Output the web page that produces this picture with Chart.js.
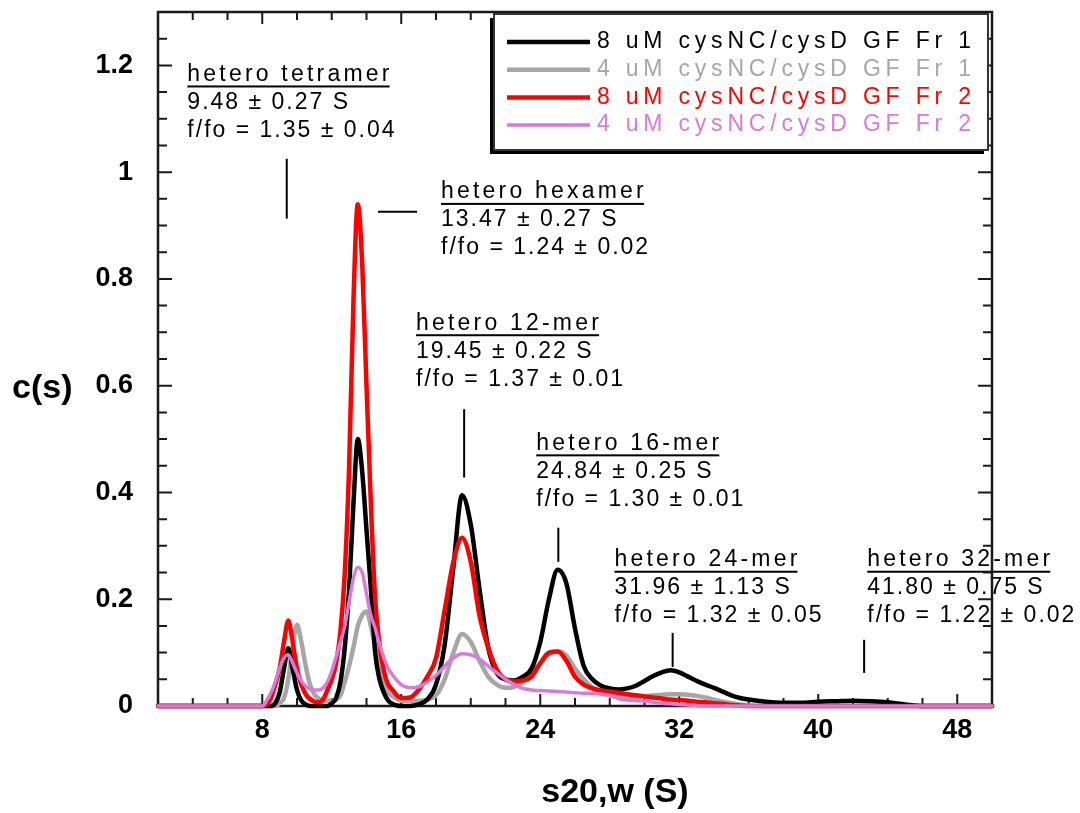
<!DOCTYPE html>
<html>
<head>
<meta charset="utf-8">
<title>c(s) distributions - cysNC/cysD</title>
<script src="https://cdn.jsdelivr.net/npm/chart.js@4.4.1/dist/chart.umd.min.js"></script>
<style>
  html, body { margin: 0; padding: 0; background: #fff; }
</style>
</head>
<body>
<canvas id="cs-chart" width="1080" height="813"></canvas>
<script>
// sedimentation coefficient grid (S)
const sValues = [2, 7.5,
  8, 8.25, 8.5, 8.75, 9, 9.25, 9.5, 9.75, 10, 10.25, 10.5, 10.75, 11, 11.25, 11.5, 11.75,
  12, 12.25, 12.5, 12.75, 13, 13.25, 13.5, 13.75, 14, 14.25, 14.5, 14.75, 15, 15.25, 15.5, 15.75, 16,
  16.5, 17, 17.5, 18, 18.5, 19, 19.5, 20, 20.5, 21, 21.5, 22, 22.5, 23, 23.5, 24, 24.5, 25, 25.5, 26,
  26.5, 27, 27.5, 28, 28.5, 29, 29.5, 30, 30.5, 31, 31.5, 32, 32.5, 33, 33.5, 34, 34.5, 35, 35.5, 36,
  37, 38, 39, 40, 41, 42, 43, 44, 45, 46, 47, 48, 49, 50];

// c(s) for each sample
const fr1High = [0, 0,
  0, 0, 0, 0.005, 0.025, 0.07, 0.108, 0.07, 0.03, 0.01, 0.003, 0, 0, 0, 0, 0,
  0.005, 0.015, 0.045, 0.11, 0.22, 0.38, 0.50, 0.44, 0.33, 0.22, 0.10, 0.05, 0.025, 0.01, 0.004, 0.001, 0,
  0, 0.003, 0.012, 0.04, 0.115, 0.26, 0.395, 0.34, 0.22, 0.11, 0.062, 0.05, 0.048, 0.055, 0.07, 0.12, 0.2, 0.255, 0.23, 0.145,
  0.075, 0.05, 0.038, 0.033, 0.031, 0.033, 0.038, 0.047, 0.056, 0.063, 0.067, 0.063, 0.055, 0.047, 0.04, 0.034, 0.027, 0.02, 0.015, 0.012,
  0.008, 0.006, 0.006, 0.008, 0.009, 0.01, 0.009, 0.007, 0.003, 0, 0, 0, 0, 0];

const fr1Low = [0, 0,
  0, 0, 0, 0, 0.005, 0.015, 0.05, 0.11, 0.152, 0.12, 0.075, 0.04, 0.022, 0.014, 0.011, 0.01,
  0.01, 0.012, 0.02, 0.045, 0.075, 0.11, 0.15, 0.17, 0.177, 0.15, 0.11, 0.065, 0.04, 0.025, 0.018, 0.013, 0.01,
  0.01, 0.01, 0.012, 0.02, 0.05, 0.1, 0.135, 0.12, 0.085, 0.055, 0.04, 0.034, 0.036, 0.045, 0.06, 0.08, 0.097, 0.102, 0.095, 0.07,
  0.05, 0.035, 0.026, 0.02, 0.017, 0.015, 0.016, 0.018, 0.02, 0.021, 0.022, 0.022, 0.021, 0.019, 0.016, 0.012, 0.008, 0.005, 0.003, 0.001,
  0, 0, 0, 0, 0, 0, 0, 0, 0, 0, 0, 0, 0, 0];

const fr2High = [0, 0,
  0, 0.003, 0.015, 0.04, 0.07, 0.12, 0.16, 0.12, 0.07, 0.04, 0.022, 0.013, 0.008, 0.007, 0.012, 0.03,
  0.05, 0.08, 0.14, 0.25, 0.45, 0.76, 0.94, 0.83, 0.60, 0.38, 0.2, 0.115, 0.065, 0.04, 0.03, 0.02, 0.015,
  0.016, 0.03, 0.055, 0.09, 0.18, 0.27, 0.315, 0.27, 0.17, 0.11, 0.068, 0.05, 0.046, 0.048, 0.055, 0.08, 0.1, 0.102, 0.085, 0.055,
  0.04, 0.033, 0.029, 0.027, 0.025, 0.022, 0.02, 0.018, 0.016, 0.014, 0.012, 0.011, 0.01, 0.008, 0.007, 0.005, 0.004, 0.002, 0.001, 0,
  0, 0, 0, 0, 0, 0, 0, 0, 0, 0, 0, 0, 0, 0];

const fr2Low = [0, 0,
  0, 0.01, 0.025, 0.045, 0.07, 0.09, 0.096, 0.08, 0.062, 0.047, 0.037, 0.032, 0.03, 0.03, 0.034, 0.045,
  0.065, 0.092, 0.12, 0.15, 0.195, 0.24, 0.26, 0.25, 0.21, 0.17, 0.145, 0.115, 0.09, 0.07, 0.058, 0.048, 0.04,
  0.034, 0.036, 0.045, 0.057, 0.075, 0.09, 0.098, 0.096, 0.088, 0.075, 0.062, 0.05, 0.04, 0.033, 0.03, 0.029, 0.028, 0.027, 0.026, 0.025,
  0.024, 0.024, 0.022, 0.02, 0.014, 0.011, 0.01, 0.009, 0.007, 0.005, 0.004, 0.003, 0.002, 0.001, 0, 0, 0, 0, 0, 0,
  0, 0, 0, 0, 0, 0, 0, 0, 0, 0, 0, 0, 0, 0];

const seriesLabels = ['8 uM cysNC/cysD GF Fr 1', '4 uM cysNC/cysD GF Fr 1', '8 uM cysNC/cysD GF Fr 2', '4 uM cysNC/cysD GF Fr 2'];
const seriesValues = [fr1High, fr1Low, fr2High, fr2Low];

// peak annotations
const peakTitles = ['hetero tetramer', 'hetero hexamer', 'hetero 12-mer', 'hetero 16-mer', 'hetero 24-mer', 'hetero 32-mer'];
const peakSed = ['9.48 \u00b1 0.27 S', '13.47 \u00b1 0.27 S', '19.45 \u00b1 0.22 S', '24.84 \u00b1 0.25 S', '31.96 \u00b1 1.13 S', '41.80 \u00b1 0.75 S'];
const peakFrict = ['f/fo = 1.35 \u00b1 0.04', 'f/fo = 1.24 \u00b1 0.02', 'f/fo = 1.37 \u00b1 0.01', 'f/fo = 1.30 \u00b1 0.01', 'f/fo = 1.32 \u00b1 0.05', 'f/fo = 1.22 \u00b1 0.02'];

// styling / placement (kept apart from the data)
const seriesColors = ['#000000', '#a6a6a6', '#ff0000', '#d77ad8'];
const seriesWidths = [4.5, 4.5, 4.5, 3.5];
const seriesLayer = [3, 4, 2, 1]; // lower number is drawn on top
const labelAnchors = [[3.69, 1.183], [18.29, 0.963], [16.85, 0.717], [23.77, 0.492], [28.27, 0.274], [42.82, 0.274]];
const markerLines = [[9.41, 1.025, 9.41, 0.913], [14.66, 0.926, 16.91, 0.926], [19.62, 0.556, 19.62, 0.428],
  [25.04, 0.334, 25.04, 0.27], [31.62, 0.137, 31.62, 0.073], [42.64, 0.124, 42.64, 0.062]];

const FONT = '"Liberation Sans", Arial, sans-serif';

// Draws the annotations, the boxed frame with inward ticks, the legend and the axis titles
const decorations = {
  id: 'decorations',
  beforeDatasetsDraw(chart) {
    const { ctx, chartArea: a, scales: { x, y } } = chart;
    ctx.save();

    ctx.fillStyle = '#000';
    ctx.font = '23px ' + FONT;
    ctx.textBaseline = 'middle';
    ctx.textAlign = 'left';
    peakTitles.forEach((title, i) => {
      const px = x.getPixelForValue(labelAnchors[i][0]);
      const py = y.getPixelForValue(labelAnchors[i][1]);
      ctx.letterSpacing = '3.2px';
      ctx.fillText(title, px, py);
      const w = ctx.measureText(title).width - 3;
      ctx.fillRect(px, py + 11, w, 2);
      ctx.letterSpacing = '2px';
      ctx.fillText(peakSed[i], px, py + 28);
      ctx.fillText(peakFrict[i], px, py + 56);
    });
    ctx.letterSpacing = '0px';

    ctx.strokeStyle = '#000';
    ctx.lineWidth = 2;
    markerLines.forEach(m => {
      ctx.beginPath();
      ctx.moveTo(x.getPixelForValue(m[0]), y.getPixelForValue(m[1]));
      ctx.lineTo(x.getPixelForValue(m[2]), y.getPixelForValue(m[3]));
      ctx.stroke();
    });

    // frame
    ctx.strokeStyle = '#1a1a1a';
    ctx.lineWidth = 2.5;
    ctx.strokeRect(a.left, a.top, a.right - a.left, a.bottom - a.top);

    ctx.lineWidth = 2;
    ctx.beginPath();
    x.ticks.forEach(t => {
      const px = x.getPixelForValue(t.value);
      const len = t.value % 8 === 0 ? 12 : 8;
      ctx.moveTo(px, a.bottom); ctx.lineTo(px, a.bottom - len);
      ctx.moveTo(px, a.top); ctx.lineTo(px, a.top + len);
    });
    y.ticks.forEach(t => {
      const py = y.getPixelForValue(t.value);
      const len = Math.round(t.value * 100) % 20 === 0 ? 14 : 9;
      ctx.moveTo(a.left, py); ctx.lineTo(a.left + len, py);
      ctx.moveTo(a.right, py); ctx.lineTo(a.right - len, py);
    });
    ctx.stroke();
    ctx.restore();
  },
  afterDatasetsDraw(chart) {
    const { ctx, chartArea: a } = chart;
    ctx.save();

    // legend box with drop shadow
    const bx = a.right - 498, by = a.top + 2, bw = 494, bh = 136;
    ctx.fillStyle = '#000';
    ctx.fillRect(bx - 4, by + 4, bw, bh);
    ctx.fillStyle = '#fff';
    ctx.fillRect(bx, by, bw, bh);
    ctx.strokeStyle = '#333';
    ctx.lineWidth = 2;
    ctx.strokeRect(bx, by, bw, bh);

    ctx.font = '23px ' + FONT;
    ctx.letterSpacing = '4.8px';
    ctx.textBaseline = 'middle';
    ctx.textAlign = 'left';
    chart.data.datasets.forEach((ds, i) => {
      const ry = by + 28 + i * 27.7;
      ctx.strokeStyle = ds.borderColor;
      ctx.lineWidth = ds.borderWidth;
      ctx.beginPath();
      ctx.moveTo(bx + 13, ry);
      ctx.lineTo(bx + 96, ry);
      ctx.stroke();
      ctx.fillStyle = ds.borderColor;
      ctx.fillText(ds.label, bx + 103, ry);
    });
    ctx.letterSpacing = '0px';

    // axis titles
    ctx.fillStyle = '#000';
    ctx.font = 'bold 34px ' + FONT;
    ctx.textAlign = 'left';
    ctx.fillText('c(s)', 12, 389);
    ctx.textAlign = 'center';
    ctx.fillText('s20,w (S)', 615, 793);
    ctx.restore();
  }
};

const tickFont = { family: FONT, size: 27, weight: 'bold' };

new Chart(document.getElementById('cs-chart'), {
  type: 'line',
  data: {
    datasets: seriesLabels.map((label, i) => ({
      label,
      data: sValues.map((s, j) => ({ x: s, y: seriesValues[i][j] })),
      borderColor: seriesColors[i],
      backgroundColor: seriesColors[i],
      borderWidth: seriesWidths[i],
      order: seriesLayer[i],
      pointRadius: 0,
      fill: false,
      clip: 5
    }))
  },
  options: {
    responsive: false,
    animation: false,
    devicePixelRatio: 1,
    layout: { padding: { left: 0, right: 88, top: 12, bottom: 0 } },
    elements: { line: { cubicInterpolationMode: 'monotone', borderJoinStyle: 'round', borderCapStyle: 'round' } },
    plugins: { legend: { display: false }, tooltip: { enabled: false } },
    scales: {
      x: {
        type: 'linear', min: 2, max: 50,
        grid: { display: false, drawTicks: false }, border: { display: false },
        afterFit: s => { s.height = 107; s.paddingLeft = 0; s.paddingRight = 0; },
        ticks: {
          stepSize: 2, autoSkip: false, maxRotation: 0, padding: 8, color: '#000', font: tickFont,
          callback: v => (v % 8 === 0 ? String(v) : '')
        }
      },
      y: {
        min: 0, max: 1.3,
        grid: { display: false, drawTicks: false }, border: { display: false },
        afterFit: s => { s.width = 158; s.paddingTop = 0; s.paddingBottom = 0; },
        ticks: {
          stepSize: 0.05, autoSkip: false, padding: 25, color: '#000', font: tickFont,
          callback: v => {
            const k = Math.round(v * 100);
            return k % 20 === 0 ? String(k / 100) : '';
          }
        }
      }
    }
  },
  plugins: [decorations]
});
</script>
</body>
</html>
